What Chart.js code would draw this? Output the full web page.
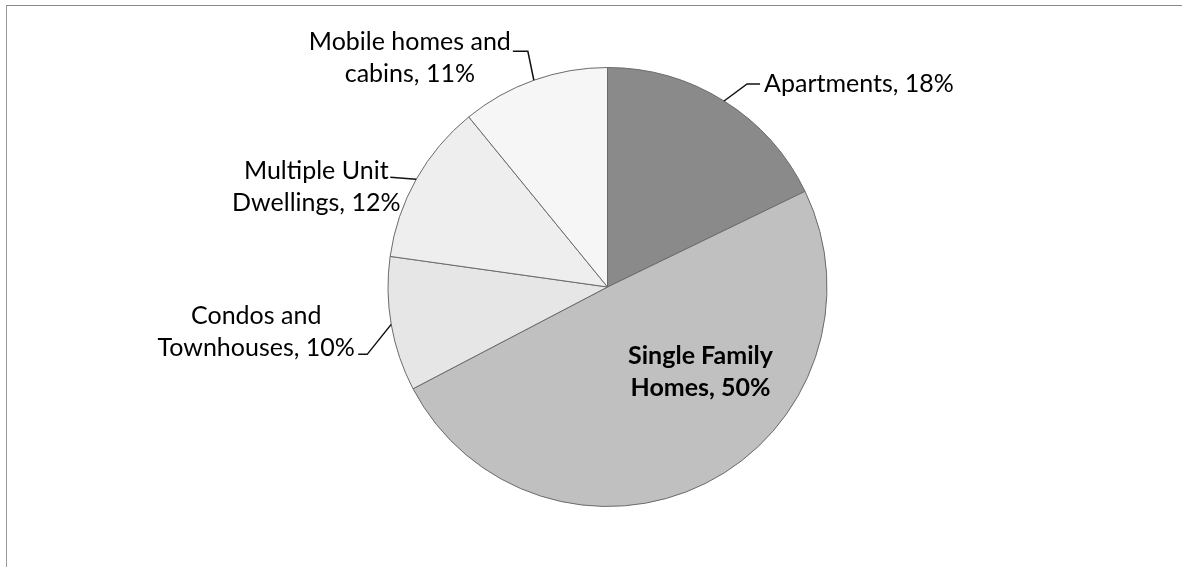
<!DOCTYPE html>
<html>
<head>
<meta charset="utf-8">
<script src="https://cdn.jsdelivr.net/npm/chart.js@4.4.1/dist/chart.umd.min.js"></script>
<style>
  html, body { margin: 0; padding: 0; background: #fff; }
  #wrap { position: relative; width: 1182px; height: 567px; overflow: hidden; }
  #frame { position: absolute; left: 6px; top: 5px; right: 0; bottom: 0;
           border-top: 1px solid #8a8a8a; border-left: 1px solid #9a9a9a; pointer-events: none; }
  canvas { position: absolute; left: 0; top: 0; }
</style>
</head>
<body>
<div id="wrap">
  <canvas id="c" width="1182" height="567"></canvas>
  <div id="frame"></div>
</div>
<script>
// ---- data ----
const categories = ["Apartments", "Single Family Homes", "Condos and Townhouses", "Multiple Unit Dwellings", "Mobile homes and cabins"];
const shares = [18, 50, 10, 12, 11];
const labelLines = [
  ["Apartments, 18%"],
  ["Single Family", "Homes, 50%"],
  ["Condos and", "Townhouses, 10%"],
  ["Multiple Unit", "Dwellings, 12%"],
  ["Mobile homes and", "cabins, 11%"]
];
const sliceColors = ["#8a8a8a", "#c0c0c0", "#e6e6e6", "#eeeeee", "#f6f6f6"];

// label layout: offsets relative to the slice's outer-arc anchor (or pie centre for inside labels)
const labelLayout = [
  { ref: "anchor", leader: [[23, -17], [36, -17]], align: "left",   tx: 40,   ty: -17, bold: false },
  { ref: "center", leader: null,                   align: "center", tx: 93,   ty: 69,  bold: true  },
  { ref: "anchor", leader: [[-24, 30], [-33, 30]], align: "center", tx: -135, ty: -8,  bold: false },
  { ref: "anchor", leader: [[-26, -2]],            align: "center", tx: -100, ty: -8,  bold: false },
  { ref: "anchor", leader: [[-6, -29], [-21, -29]],align: "center", tx: -124, ty: -38, bold: false }
];
const LINE_H = 32;
const FONT_PX = 25;

const labelPlugin = {
  id: "sliceLabels",
  afterDatasetsDraw(chart) {
    const ctx = chart.ctx;
    const meta = chart.getDatasetMeta(0);
    meta.data.forEach((arc, i) => {
      const p = arc.getProps(["x", "y", "startAngle", "endAngle", "outerRadius"], true);
      const mid = (p.startAngle + p.endAngle) / 2;
      const ax = p.x + Math.cos(mid) * p.outerRadius;
      const ay = p.y + Math.sin(mid) * p.outerRadius;
      const L = labelLayout[i];
      const ox = L.ref === "anchor" ? ax : p.x;
      const oy = L.ref === "anchor" ? ay : p.y;
      ctx.save();
      if (L.leader) {
        ctx.strokeStyle = "#111";
        ctx.lineWidth = 1.5;
        ctx.beginPath();
        ctx.moveTo(ax, ay);
        L.leader.forEach(([dx, dy]) => ctx.lineTo(ax + dx, ay + dy));
        ctx.stroke();
      }
      ctx.fillStyle = "#000";
      ctx.font = (L.bold ? "bold " : "") + FONT_PX + "px Lato, 'Open Sans', sans-serif";
      ctx.textAlign = L.align;
      ctx.textBaseline = "middle";
      labelLines[i].forEach((t, k) => {
        ctx.fillText(t, ox + L.tx, oy + L.ty + k * LINE_H);
      });
      ctx.restore();
    });
  }
};

new Chart(document.getElementById("c"), {
  type: "pie",
  data: {
    labels: categories,
    datasets: [{
      data: shares,
      backgroundColor: sliceColors,
      borderColor: "#6a6a6a",
      borderWidth: 1
    }]
  },
  options: {
    responsive: false,
    animation: false,
    layout: { padding: { top: 67, bottom: 60, left: 33, right: 0 } },
    plugins: { legend: { display: false }, tooltip: { enabled: false } }
  },
  plugins: [labelPlugin]
});
</script>
</body>
</html>
